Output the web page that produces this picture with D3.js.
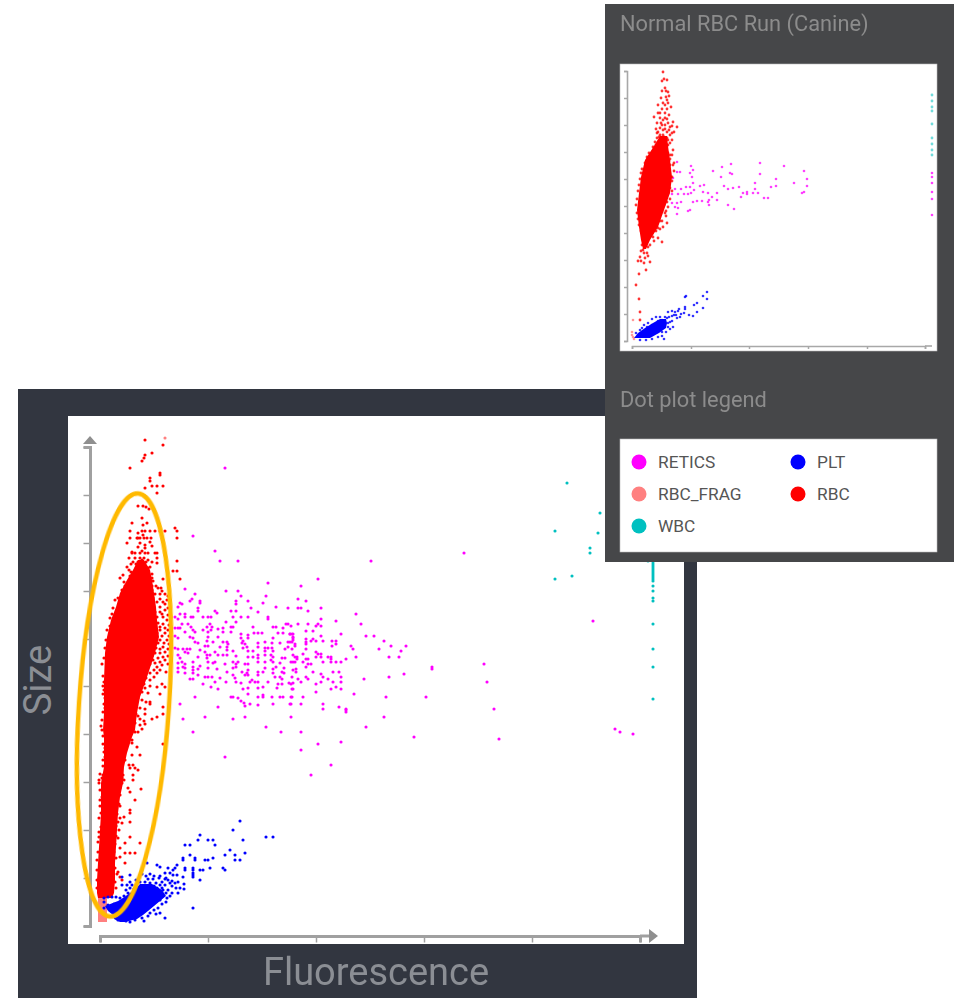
<!DOCTYPE html>
<html><head><meta charset="utf-8">
<script src="https://cdn.jsdelivr.net/npm/d3@7"></script>
<style>html,body{margin:0;padding:0;background:#fff}svg{display:block}text{font-family:Roboto,sans-serif}</style>
</head><body><svg id="c" width="959" height="998"></svg>
<script>
const legendNames=["RETICS","RBC_FRAG","WBC","PLT","RBC"];
const legendColors=["#ff00ff","#ff8080","#00c0c0","#0000ff","#ff0000"];
const titleMini="Normal RBC Run (Canine)",titleLegend="Dot plot legend",xLabel="Fluorescence",yLabel="Size";

// MAIN PLOT — dense cores [size, fluorescence low, fluorescence high]
const mainRbcCore=[[366,38,44],[356,33,50],[346,27,52],[333,20,54],[319,16,56],[306,11,57],[289,7,59],[273,5,55],[246,4,46],[229,4,40],[213,4,37],[196,3,35],[189,4,32],[173,4,27],[159,4,24],[143,1,23],[129,1,20],[113,1,18],[96,0,17],[79,-1,16],[63,-2,15],[46,-3,15],[33,-3,14],[28,-2,12]];
const mainFragCore=[[28,-2,7],[4,-2,7]];
const mainPltCore=[[42,40,52],[36,34,62],[30,26,66],[25,18,60],[20,5,54],[15,8,48],[11,13,43],[7,14,37],[4,20,25]];
const mainRbc=[[45,486],[63,481],[52,473],[45,471],[44,468],[42,465],[30,458],[60,453],[60,451],[50,448],[50,445],[52,440],[57,440],[63,440],[45,438],[57,433],[38,420],[43,420],[46,419],[49,417],[42,408],[32,403],[47,403],[43,401],[75,398],[77,395],[30,395],[55,395],[60,395],[65,395],[42,395],[45,395],[50,395],[38,393],[43,391],[30,388],[37,388],[40,388],[44,388],[51,388],[77,388],[27,383],[38,388],[47,388],[40,383],[45,381],[50,384],[38,379],[45,378],[52,380],[32,374],[42,375],[32,373],[35,373],[40,373],[45,373],[48,373],[29,368],[33,364],[38,364],[42,366],[46,364],[52,364],[27,359],[31,362],[37,358],[43,359],[50,359],[23,351],[20,348],[29,356],[38,353],[57,373],[55,373],[57,368],[57,363],[77,365],[73,355],[77,355],[80,347],[63,347],[53,345],[58,338],[61,338],[50,343],[55,332],[60,332],[65,332],[50,327],[57,324],[63,324],[52,322],[65,322],[55,314],[60,314],[65,316],[57,309],[63,309],[50,306],[54,305],[67,306],[50,299],[55,299],[60,299],[65,298],[53,293],[57,293],[65,293],[55,286],[60,286],[67,286],[53,279],[63,279],[50,273],[55,273],[60,273],[65,274],[47,266],[53,266],[65,266],[48,259],[57,259],[62,261],[50,253],[57,253],[2,262],[12,312],[50,246],[57,239],[65,239],[62,242],[45,238],[48,233],[60,232],[50,224],[50,222],[45,217],[45,212],[63,219],[40,207],[57,209],[63,212],[52,207],[35,203],[45,202],[40,201],[35,194],[38,194],[42,197],[28,186],[32,183],[27,181],[37,179],[63,182],[23,178],[32,171],[40,171],[25,166],[29,161],[33,161],[30,158],[35,158],[38,156],[20,156],[23,151],[33,151],[33,146],[22,143],[28,138],[30,134],[41,137],[20,131],[35,126],[20,120],[24,109],[30,116],[30,113],[22,103],[30,104],[18,104],[25,83],[30,89],[40,83],[20,78],[25,73],[30,73],[35,73],[20,69],[25,63],[18,54],[20,49],[22,46],[-1,143],[2,148],[3,151],[3,139],[4,236],[5,228],[5,218],[5,178],[5,169],[2,196],[2,129],[1,113],[1,99],[-1,89]];
const mainRbcStipple=[[52,340],[56,340],[48,336],[52,336],[62,335],[68,330],[53,328],[60,327],[67,326],[50,320],[54,318],[60,319],[68,318],[52,312],[62,312],[68,311],[50,302],[58,303],[63,302],[69,301],[52,296],[60,296],[68,296],[52,290],[62,290],[69,290],[52,283],[58,283],[64,283],[69,282],[56,278],[60,277],[68,277],[46,270],[52,270],[58,268],[63,269],[68,270],[44,262],[50,262],[55,263],[60,264],[68,262],[42,255],[46,254],[54,256],[60,256],[66,254],[42,248],[46,248],[54,249],[40,242],[44,242],[50,240],[38,236],[42,234],[38,228],[42,226],[46,224],[36,220],[40,218],[36,212],[34,206],[38,210],[44,205]];
const mainRbcRightEdge=[[30,190],[28,192],[32,186],[24,184],[26,178],[22,172],[20,168],[24,170],[19,160],[22,160],[19,152],[22,148],[24,146],[18,136],[20,138],[17,126],[19,122],[17,112],[20,108],[16,100],[19,96],[16,90],[18,88],[15,82],[14,74],[16,68],[15,58],[17,52],[15,44],[16,38]];
const mainRbcLeftEdge=[[3,250],[4,244],[3,240],[3,232],[4,222],[3,214],[2,206],[1,200],[3,190],[3,182],[4,174],[3,166],[3,160],[0,152],[-1,146],[0,136],[0,126],[0,120],[-1,108],[-1,94],[-2,84],[-2,74],[-3,66],[-3,56],[-3,46],[-3,38],[15,326],[18,328],[13,318],[10,308],[10,300],[7,296],[6,286],[5,278],[4,268],[25,340],[24,344],[30,350],[31,354],[22,336],[35,368],[40,368],[44,368],[48,366],[36,362],[41,362],[48,358],[52,352],[52,348]];
const mainRetics=[[125,458],[93,390],[115,375],[120,365],[138,365],[271,365],[364,373],[218,347],[168,343],[85,337],[126,335],[138,335],[95,332],[141,330],[166,330],[92,327],[90,325],[100,325],[100,323],[136,325],[136,322],[148,325],[163,323],[80,323],[82,322],[78,319],[98,318],[98,315],[151,318],[176,319],[188,318],[115,315],[117,313],[131,315],[136,315],[158,314],[85,312],[85,309],[75,309],[80,312],[91,309],[93,309],[103,309],[108,309],[111,309],[133,309],[141,309],[148,309],[168,309],[168,307],[78,307],[126,304],[136,304],[110,302],[107,299],[112,299],[82,302],[88,302],[91,299],[133,299],[131,299],[153,299],[173,299],[176,299],[186,302],[188,302],[183,298],[75,298],[78,298],[80,298],[93,296],[95,294],[103,296],[118,297],[123,298],[123,294],[108,294],[111,296],[85,294],[158,293],[162,293],[178,293],[183,293],[190,292],[192,292],[154,293],[148,291],[141,292],[131,294],[75,290],[78,288],[90,289],[93,288],[108,289],[107,285],[118,289],[148,288],[173,288],[193,288],[141,288],[143,285],[95,284],[98,283],[123,284],[127,284],[128,282],[113,284],[105,280],[108,280],[142,283],[145,282],[147,279],[158,283],[165,284],[188,284],[192,284],[172,283],[180,283],[75,278],[78,277],[83,277],[87,277],[90,277],[100,276],[120,279],[127,279],[127,276],[158,279],[165,278],[168,278],[172,278],[143,278],[185,277],[188,279],[192,277],[85,274],[88,273],[105,274],[133,275],[153,275],[148,275],[165,275],[173,275],[78,271],[80,268],[98,269],[107,271],[107,268],[110,271],[115,274],[118,271],[123,271],[127,271],[136,270],[148,269],[153,269],[158,271],[158,268],[165,271],[171,271],[173,269],[193,271],[182,268],[185,268],[78,263],[82,264],[85,262],[93,264],[108,264],[113,263],[115,264],[133,264],[138,264],[136,262],[158,264],[165,264],[171,266],[173,264],[180,263],[193,264],[78,258],[83,259],[85,258],[93,259],[93,256],[100,260],[98,257],[108,258],[117,257],[125,262],[145,262],[148,262],[133,258],[136,259],[165,258],[173,257],[176,259],[184,258],[193,256],[78,254],[85,253],[93,253],[127,254],[142,254],[147,253],[148,256],[158,254],[158,251],[163,254],[173,253],[182,254],[184,253],[133,251],[135,248],[136,244],[98,251],[105,249],[108,249],[112,249],[145,251],[148,251],[180,249],[175,249],[90,247],[93,247],[115,244],[120,248],[126,244],[152,246],[150,244],[155,244],[182,247],[192,249],[103,242],[111,239],[141,243],[158,244],[168,244],[178,242],[182,242],[189,243],[193,243],[148,238],[158,238],[163,239],[177,238],[192,237],[118,237],[143,237],[95,229],[131,229],[133,229],[138,228],[148,232],[158,229],[163,231],[163,229],[180,229],[183,229],[172,229],[192,229],[141,225],[144,223],[145,220],[150,222],[80,222],[118,219],[158,221],[173,222],[190,222],[201,340],[198,327],[206,325],[198,318],[201,318],[221,318],[208,315],[256,312],[221,307],[236,305],[198,302],[208,302],[218,302],[216,300],[221,300],[261,302],[191,300],[206,295],[213,295],[241,292],[190,292],[193,292],[193,289],[193,286],[221,290],[266,290],[274,290],[206,287],[206,284],[206,282],[213,287],[211,285],[216,285],[223,285],[232,285],[236,285],[236,282],[232,280],[284,285],[190,284],[195,282],[195,280],[251,280],[253,277],[291,280],[306,280],[279,277],[206,277],[301,275],[216,274],[216,269],[203,272],[218,272],[221,272],[221,269],[228,269],[231,269],[231,267],[231,264],[256,269],[289,269],[299,269],[195,269],[197,269],[197,267],[195,264],[206,267],[208,267],[246,267],[191,264],[203,264],[223,264],[236,264],[241,264],[206,259],[208,262],[211,262],[196,257],[196,254],[213,254],[233,254],[239,254],[221,252],[223,249],[304,252],[289,249],[206,249],[208,247],[198,247],[201,244],[228,247],[233,244],[241,249],[241,244],[264,247],[221,244],[216,242],[191,242],[236,239],[231,237],[241,237],[193,237],[216,234],[254,232],[286,229],[191,229],[203,229],[191,222],[201,222],[223,222],[223,217],[239,219],[246,217],[246,216],[246,214],[191,209],[83,207],[105,209],[133,207],[145,209],[166,199],[181,194],[201,194],[266,199],[93,194],[218,182],[241,184],[201,176],[125,169],[231,161],[211,151],[493,305],[332,259],[332,257],[384,262],[387,244],[326,229],[284,209],[394,217],[314,189],[399,187],[515,197],[520,194],[533,192]];
const mainPlt=[[140,105],[133,96],[100,91],[98,86],[108,86],[113,86],[143,86],[85,81],[90,81],[115,81],[166,89],[173,89],[130,76],[125,71],[135,71],[145,73],[90,71],[135,66],[140,66],[113,68],[105,66],[108,66],[83,68],[83,66],[95,68],[95,66],[47,63],[57,61],[60,59],[68,58],[77,61],[75,58],[73,56],[70,53],[85,58],[85,56],[93,58],[93,56],[93,53],[93,51],[93,49],[100,56],[103,56],[110,58],[123,58],[125,56],[65,53],[73,51],[77,51],[83,49],[100,46],[30,51],[30,44],[22,49],[48,47],[53,47],[59,48],[65,47],[75,43],[70,43],[65,41],[60,41],[50,43],[45,44],[22,41],[27,41],[32,41],[37,39],[80,38],[72,33],[78,33],[67,28],[93,18],[60,13],[65,8],[50,13],[35,6],[23,8],[63,36],[57,38],[47,36],[40,36],[28,33],[68,36]];
const mainPltStipple=[[42,52],[46,50],[50,52],[54,50],[60,50],[66,48],[36,46],[40,44],[56,43],[62,44],[68,46],[72,45],[78,44],[84,42],[30,38],[34,37],[44,40],[50,38],[54,40],[62,38],[72,40],[76,38],[84,37],[26,36],[62,32],[66,33],[70,30],[66,24],[60,26],[62,22],[58,18],[54,16],[56,12],[48,10],[42,8],[44,5],[30,4],[26,5],[18,6],[4,28],[8,29],[12,29],[16,29],[20,28],[24,30],[27,29],[4,24],[8,21],[14,22],[4,18]];
const mainFrag=[[65,488]];
const mainWbc=[[467,443],[500,413],[455,395],[498,393],[490,378],[490,373],[455,347],[472,350],[548,365],[553,363],[553,361],[553,359],[553,357],[553,355],[553,353],[553,351],[553,349],[553,347],[553,345],[553,340],[553,335],[553,328],[553,325],[553,302],[553,277],[553,259],[553,227]];
const mainXTicks=[0,108,216,324,432,540];
const mainYTicks=[0,48,96,144,192,240,287,335,383,431,479];

// SMALL PLOT
const miniRbcCore=[[205,28,35],[195,22,36],[181,13,38],[164,9,40],[148,7,38],[131,5,32],[114,7,26],[101,9,18],[92,11,14]];
const miniPltCore=[[22,28,34],[18,21,35],[13,13,34],[8,6,27],[3,2,18]];
const miniRbc=[[31,269],[30,260],[35,261],[33,253],[36,249],[34,244],[37,245],[35,241],[39,234],[26,236],[28,228],[33,228],[37,226],[22,224],[28,223],[33,223],[41,219],[45,214],[42,209],[38,214],[28,213],[35,209],[31,206],[25,203],[40,201],[36,196],[33,198],[28,198],[41,191],[38,186],[35,183],[41,176],[37,168],[40,164],[35,156],[38,153],[35,139],[33,128],[35,118],[31,114],[26,113],[21,104],[26,103],[30,99],[18,96],[11,91],[8,84],[13,83],[18,79],[6,80],[14,71],[7,67],[4,56],[7,42],[8,29],[8,21],[18,138],[20,124],[28,126],[36,134],[25,208],[28,206],[31,211],[35,203],[30,201],[26,209],[33,216],[36,218],[38,206],[31,221],[30,216],[24,196],[29,193],[34,191],[37,180],[36,172]];
const miniRbcStipple=[[24,190],[30,190],[36,188],[40,186],[38,182],[42,178],[38,176],[42,170],[36,176],[36,165],[40,160],[37,160],[36,148],[40,150],[34,145],[38,142],[32,136],[30,130],[28,120],[24,118],[22,122],[20,110],[16,108],[12,108],[9,110],[7,116],[6,122],[5,128],[4,136],[5,142],[6,150],[7,156],[8,162],[9,168],[10,172],[13,178],[15,184],[17,188],[21,194],[23,199],[26,199],[30,196],[35,196],[38,198],[27,204],[32,204],[36,201],[40,208],[24,212],[29,218],[33,212],[37,211],[40,215],[25,218],[35,222],[26,228],[30,232],[35,232],[31,238],[33,236],[29,243],[36,238],[30,250],[34,250],[32,262],[12,100],[15,100],[10,96],[13,96],[16,94],[9,90],[12,88],[15,88],[9,80],[12,78],[16,85],[22,100],[24,110],[28,112],[30,120],[34,125],[34,130]];
const miniFrag=[[1,21],[0,9],[0,6],[1,4],[2,2]];
const miniPlt=[[75,49],[71,45],[75,42],[54,45],[53,44],[65,38],[62,36],[71,33],[53,34],[53,32],[46,30],[43,29],[36,29],[49,27],[57,26],[65,29],[61,25],[40,25],[35,23],[30,21],[38,19],[45,23],[41,14],[33,18],[10,13],[15,14],[26,4],[30,9],[28,14],[20,22],[24,24],[28,24],[33,24],[37,24],[40,20],[26,20],[36,14],[38,12],[34,9],[30,5],[20,2],[14,1],[8,1],[4,8],[8,11],[12,16],[16,18],[20,16],[42,26],[44,26],[48,24],[52,28],[40,30],[47,32],[36,18],[32,2]];
const miniRetics=[[45,179],[45,169],[48,169],[59,175],[61,171],[58,168],[60,164],[81,170],[90,174],[99,177],[128,178],[128,167],[98,168],[100,167],[89,164],[144,162],[41,163],[68,155],[72,156],[61,158],[92,155],[96,152],[101,153],[107,154],[123,158],[123,152],[139,154],[144,155],[43,152],[49,152],[54,154],[58,154],[62,151],[71,149],[76,148],[85,148],[80,144],[36,147],[40,147],[46,147],[52,147],[56,147],[59,148],[111,148],[115,149],[121,148],[115,147],[126,148],[109,144],[132,143],[136,143],[77,141],[85,141],[76,139],[61,139],[65,140],[70,140],[40,138],[45,138],[49,139],[43,134],[46,133],[77,136],[96,136],[102,132],[58,131],[56,130],[45,127],[152,175],[172,170],[175,162],[162,158],[175,155],[172,149],[170,148],[300,168],[300,164],[300,158],[300,149],[300,142],[300,126]];
const miniWbc=[[300,246],[300,240],[300,234],[300,230],[300,217],[300,203],[300,197],[300,191],[300,186]];
const miniXTicks=[0,59,117,176,235,293];
const miniYTicks=[0,27,54,81,108,135,162,189,216,243,270];

const svg=d3.select("#c");
const defs=svg.append("defs");
defs.append("filter").attr("id","soft").attr("x","-5%").attr("y","-5%").attr("width","110%").attr("height","110%")
  .append("feGaussianBlur").attr("stdDeviation",0.35);
defs.append("filter").attr("id","soft2").attr("x","-5%").attr("y","-5%").attr("width","110%").attr("height","110%")
  .append("feGaussianBlur").attr("stdDeviation",0.6);

function band(g,core,x,y,color,op){
  g.append("path").datum(core)
   .attr("d",d3.area().y(d=>y(d[0])).x0(d=>x(d[1])).x1(d=>x(d[2])).curve(d3.curveLinear))
   .attr("fill",color).attr("opacity",op||1);
}
function dots(g,pts,x,y,color,r,op){
  g.append("g").selectAll("circle").data(pts).join("circle")
   .attr("cx",d=>x(d[0])).attr("cy",d=>y(d[1])).attr("r",r).attr("fill",color).attr("opacity",op||1);
}
function axes(g,x,y,xt,yt,xPos,yPos,sz,w,col){
  const ax=g.append("g").attr("transform",`translate(0,${xPos})`).call(d3.axisBottom(x).tickValues(xt).tickSize(sz).tickFormat(""));
  const ay=g.append("g").attr("transform",`translate(${yPos},0)`).call(d3.axisLeft(y).tickValues(yt).tickSize(sz).tickFormat(""));
  [ax,ay].forEach(a=>{a.selectAll("path").attr("stroke",col).attr("stroke-width",w).attr("fill","none");
    a.selectAll("line").attr("stroke",col).attr("stroke-width",1.5);});
}
const R=1.55;
// ---- main panel
svg.append("rect").attr("x",18).attr("y",389).attr("width",679).attr("height",609).attr("fill","#323640");
svg.append("rect").attr("x",68).attr("y",416).attr("width",616).attr("height",528).attr("fill","#fff");
const mx=d3.scaleLinear().domain([0,540]).range([100,640]);
const my=d3.scaleLinear().domain([0,479]).range([926,447]);
const mg=svg.append("g").attr("filter","url(#soft)");
axes(mg,mx,my,mainXTicks,mainYTicks,936,90,6.5,3,"#a0a0a0");
mg.append("line").attr("x1",mx(540)).attr("x2",650).attr("y1",936).attr("y2",936).attr("stroke","#a0a0a0").attr("stroke-width",3);
mg.append("path").attr("d","M83,444 L90,436 L97,444 Z").attr("fill","#8f8f8f");
mg.append("path").attr("d","M649,929 L658,936 L649,943 Z").attr("fill","#8f8f8f");
dots(mg,mainRetics,mx,my,"#ff00ff",R);
dots(mg,mainWbc,mx,my,"#00c0c0",R);
band(mg,mainFragCore,mx,my,"#ff8080");
dots(mg,mainFrag,mx,my,"#ff8080",R);
band(mg,mainRbcCore,mx,my,"#ff0000");
dots(mg,mainRbc.concat(mainRbcStipple,mainRbcRightEdge,mainRbcLeftEdge),mx,my,"#ff0000",R);
band(mg,mainPltCore,mx,my,"#0000ff");
dots(mg,mainPlt.concat(mainPltStipple),mx,my,"#0000ff",R);
svg.append("ellipse").attr("cx",0).attr("cy",0).attr("rx",45).attr("ry",212)
  .attr("transform",`translate(${mx(24)},${my(221)}) rotate(3.8)`)
  .attr("fill","none").attr("stroke","#ffb900").attr("stroke-width",4.5);
svg.append("text").attr("x",376).attr("y",985).attr("text-anchor","middle").attr("font-size",38).attr("fill","#8b8e94").text(xLabel);
svg.append("text").attr("transform","translate(51,680) rotate(-90)").attr("text-anchor","middle").attr("font-size",38).attr("fill","#8b8e94").text(yLabel);

// ---- small panel
svg.append("rect").attr("x",605).attr("y",4).attr("width",349).attr("height",558).attr("fill","#464749");
svg.append("rect").attr("x",620).attr("y",64).attr("width",317).attr("height",287).attr("fill","#fff").attr("stroke","#bbb").attr("stroke-width",0.6);
svg.append("rect").attr("x",620).attr("y",439).attr("width",317).attr("height",113).attr("fill","#fff").attr("stroke","#bbb").attr("stroke-width",0.6);
const nx=d3.scaleLinear().domain([0,293]).range([632,925]);
const ny=d3.scaleLinear().domain([0,270]).range([341,71]);
const ng=svg.append("g").attr("filter","url(#soft2)");
axes(ng,nx,ny,miniXTicks,miniYTicks,346,627,3,1.6,"#a8a8a8");
ng.append("line").attr("x1",nx(293)).attr("x2",932).attr("y1",346).attr("y2",346).attr("stroke","#a8a8a8").attr("stroke-width",1.6);
dots(ng,miniRetics,nx,ny,"#ff00ff",1.3,0.75);
dots(ng,miniWbc,nx,ny,"#00c0c0",1.4,0.55);
dots(ng,miniFrag,nx,ny,"#ff8080",1.3,0.8);
band(ng,miniRbcCore,nx,ny,"#ff0000");
dots(ng,miniRbc.concat(miniRbcStipple),nx,ny,"#ff0000",1.4,0.8);
band(ng,miniPltCore,nx,ny,"#0000ff");
dots(ng,miniPlt,nx,ny,"#0000ff",1.3,0.8);
svg.append("text").attr("x",620).attr("y",31).attr("font-size",21.8).attr("fill","#8c8c8c").text(titleMini);
svg.append("text").attr("x",620).attr("y",407).attr("font-size",21.8).attr("fill","#8c8c8c").text(titleLegend);
const lx=d3.scalePoint().domain([0,1]).range([639,798]);
const ly=d3.scalePoint().domain([0,1,2]).range([462,526]);
const cols=[0,0,0,1,1],rows=[0,1,2,0,1];
const lg=svg.append("g").selectAll("g").data(legendNames).join("g")
  .attr("transform",(d,i)=>`translate(${lx(cols[i])},${ly(rows[i])})`);
lg.append("circle").attr("r",7.5).attr("fill",(d,i)=>legendColors[i]);
lg.append("text").attr("x",19).attr("y",6).attr("font-size",17.3).attr("fill","#555").text(d=>d);
</script></body></html>
